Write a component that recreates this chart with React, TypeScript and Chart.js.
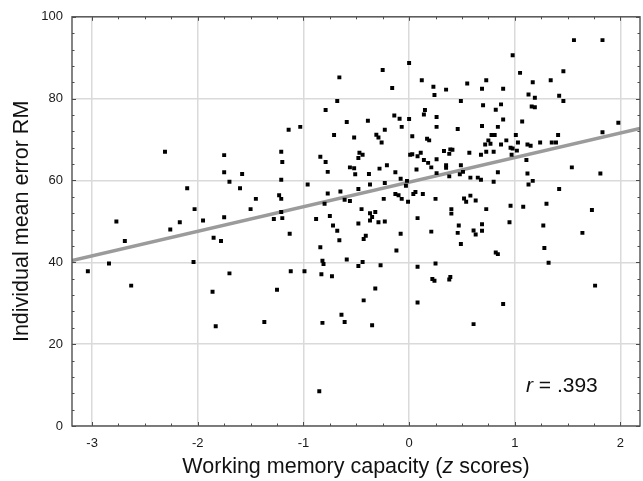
import React, { useEffect, useRef } from "react";
import { Chart, registerables } from "chart.js";

Chart.register(...registerables);

// ---- Data ----
const wmCapacity: number[] = [
  -2.31, -1.75, -1.75, -1.58, -1.7, -2.1, -1.6, -2.03, -1.5,
  0.0, -0.25, -0.66, 0.12, -0.16, 0.23, 0.24, -0.68, -0.79, 0.15,
  0.14, -0.14, -0.09, 0.0, 0.26, -0.39, -0.59, -0.07, 0.26, -1.03,
  -1.14, -0.23, -0.71, -0.31, -0.29, -0.52, 0.03, 0.17, 0.19, -0.26,
  -1.21, -0.47, -0.44, -0.48, -0.84, 0.01, 0.03, 0.11, 0.08, 0.33,
  0.26, 0.14, 0.18, 0.21, -1.2, -0.79, -0.77, -0.56, -0.52, -0.21,
  -0.28, -0.51, -0.38, -0.13, 0.07, 0.26, -1.21, -0.08, -0.23, -0.37,
  -0.02, -0.03, -0.96, -0.77, -0.65, -0.48, -0.13, -0.1, 0.04, 0.06,
  0.13, -1.45, -1.23, -1.21, -0.8, -0.61, -0.56, -0.24, -0.07, -0.01,
  0.25, -1.21, -0.45, -0.37, -0.32,
  1.56, 1.83, 0.98, 1.46, 1.05, 0.55, 0.73, 1.17, 1.34, 0.35,
  0.69, 0.89, 1.13, 1.19, 1.42, 1.46, 0.49, 0.7, 0.87, 0.82,
  1.16, 1.19, 0.89, 1.07, 1.98, 0.46, 0.69, 0.84, 1.83, 0.78,
  0.81, 1.01, 1.41, 0.75, 0.92, 1.03, 0.72, 0.77, 0.87, 1.12,
  1.15, 1.24, 1.35, 1.39, 0.96, 0.98, 1.02, 0.38, 0.41, 0.39,
  0.57, 0.68, 0.73, 0.8, 0.97, 1.11, 0.35, 0.35, 0.49, 0.51,
  0.48, 0.38, 0.58, 0.65, 0.68, 0.84, 0.8, 1.12, 1.13, 1.17,
  1.54, 1.81, 1.42, 0.52, 0.58, 0.54, 0.63, 0.4, 0.4, 0.73,
  0.96, 1.08, 1.3, 1.73,
  -2.77, -2.17, -2.26, -1.95, -1.75, -2.69, -1.85, -1.78, -2.84, -3.04,
  -2.04, -2.63, -1.7, -1.86, -1.83,
  -1.28, -1.2, -0.88, -0.75, -0.35, -0.37, -0.29, -0.23, 0.08, -0.48,
  -0.72, -0.68, -1.13, -0.66, -0.41, -0.43, -0.08, 0.21, -0.84, -0.12,
  -0.82, -0.81, -0.59, -0.44, -0.48, -0.27, 0.08, 0.25, -1.12, -0.99,
  -0.83, -0.73, 0.22, 0.24, -1.25, -0.32, -0.43, 0.08, -0.64, -1.37,
  -0.82, -0.61, -0.35, -0.85,
  0.47, 0.46, 0.49, 0.61, 0.63, 0.69, 0.69, 0.95, 0.82, 0.84,
  1.27, 1.28, 1.32, 1.64, 1.76, 0.39, 0.38, 0.89, 0.61,
];

const meanErrorRM: number[] = [
  67.0, 66.2, 62.0, 61.6, 59.7, 58.1, 58.1, 53.0, 53.0,
  88.7, 87.0, 85.2, 84.5, 82.6, 82.9, 80.9, 79.4, 77.2, 77.2,
  76.1, 75.9, 75.1, 75.0, 75.5, 74.6, 74.3, 73.1, 73.1, 73.1,
  72.4, 72.4, 71.1, 71.2, 70.5, 70.5, 70.8, 70.2, 69.8, 69.3,
  67.0, 66.8, 66.3, 65.5, 65.8, 66.3, 66.4, 66.8, 65.9, 67.2,
  65.2, 65.0, 64.3, 63.2, 64.5, 64.5, 62.1, 63.2, 63.0, 63.7,
  62.9, 61.5, 61.6, 62.0, 62.7, 61.8, 60.2, 60.4, 59.4, 59.0,
  59.9, 58.7, 59.0, 56.8, 57.3, 57.9, 56.7, 56.4, 56.7, 57.2,
  56.7, 55.5, 56.4, 55.5, 54.3, 55.3, 55.0, 55.5, 55.5, 54.8,
  55.5, 52.3, 53.0, 52.0, 52.3,
  94.3, 94.3, 90.6, 86.7, 86.3, 83.7, 84.5, 84.0, 84.5, 82.2,
  82.4, 82.4, 81.0, 80.2, 80.7, 79.4, 79.4, 78.4, 78.6, 77.3,
  78.1, 77.9, 74.9, 74.4, 74.1, 72.6, 73.3, 73.1, 71.8, 71.1,
  71.1, 71.1, 71.1, 69.8, 69.8, 69.3, 68.8, 69.0, 68.8, 68.8,
  68.5, 69.3, 69.3, 69.3, 68.0, 67.8, 67.3, 66.5, 67.5, 67.6,
  66.8, 66.3, 67.0, 67.0, 66.3, 65.0, 63.7, 63.1, 63.7, 62.1,
  61.5, 61.0, 60.7, 60.7, 60.2, 62.0, 59.7, 61.7, 59.0, 59.9,
  63.2, 61.7, 57.9, 55.6, 56.3, 54.8, 55.1, 53.0, 51.9, 53.0,
  53.8, 53.6, 54.3, 52.8,
  50.0, 49.8, 48.0, 50.2, 51.0, 45.2, 46.0, 45.2, 39.7, 37.8,
  40.1, 34.3, 37.3, 32.8, 24.4,
  50.6, 50.8, 50.6, 51.3, 51.1, 50.2, 49.8, 50.0, 50.8, 49.5,
  49.0, 47.7, 47.0, 45.4, 46.5, 45.7, 47.0, 47.5, 43.7, 42.9,
  40.4, 39.6, 40.7, 40.1, 39.1, 39.3, 38.9, 39.7, 37.8, 37.8,
  37.1, 36.6, 35.9, 35.5, 33.3, 33.6, 30.7, 30.2, 27.2, 25.4,
  25.2, 25.4, 24.6, 8.5,
  49.0, 47.2, 44.5, 47.8, 46.8, 49.3, 47.7, 49.8, 42.4, 42.0,
  49.0, 43.5, 39.9, 47.2, 34.3, 36.4, 35.8, 29.8, 24.9,
];

const xTickValues = [-3, -2, -1, 0, 1, 2];
const yTickValues = [0, 20, 40, 60, 80, 100];
const xRange = [-3.19, 2.185];
const yRange = [0, 100];
const regIntercept = 59.6;
const regSlope = 6.0;
const rText = ".393";

const yAxisTitle = "Individual mean error RM";
const xAxisTitleParts: [string, boolean][] = [
  ["Working memory capacity (", false],
  ["z", true],
  [" scores)", false],
];
const rLabelParts: [string, boolean][] = [
  ["r", true],
  [" = " + rText, false],
];

const FONT = '"Liberation Sans", Arial, Helvetica, sans-serif';

function drawParts(
  ctx: CanvasRenderingContext2D,
  parts: [string, boolean][],
  x: number,
  y: number,
  size: number,
  align: "left" | "center"
) {
  const widths = parts.map(([t, it]) => {
    ctx.font = `${it ? "italic " : ""}${size}px ${FONT}`;
    return ctx.measureText(t).width;
  });
  const total = widths.reduce((a, b) => a + b, 0);
  let cx = align === "center" ? x - total / 2 : x;
  ctx.textAlign = "left";
  parts.forEach(([t, it], i) => {
    ctx.font = `${it ? "italic " : ""}${size}px ${FONT}`;
    ctx.fillText(t, cx, y);
    cx += widths[i];
  });
}

const framePlugin = {
  id: "refFrame",
  afterDraw(chart: any) {
    const { ctx, chartArea, scales } = chart;
    const { left, right, top, bottom } = chartArea;
    const xs = scales.x;
    const ys = scales.y;
    ctx.save();
    // inward tick marks (major + minor) on all four sides
    ctx.strokeStyle = "#4a4a4a";
    ctx.lineWidth = 1;
    ctx.beginPath();
    for (let i = -16; i <= 12; i++) {
      const v = i * 0.25;
      if (v < xRange[0] || v > xRange[1]) continue;
      const px = Math.round(xs.getPixelForValue(v)) + 0.5;
      const len = i % 4 === 0 ? 4 : 2.5;
      ctx.moveTo(px, bottom);
      ctx.lineTo(px, bottom - len);
      ctx.moveTo(px, top);
      ctx.lineTo(px, top + len);
    }
    for (let i = 0; i <= 25; i++) {
      const v = i * 4;
      const py = Math.round(ys.getPixelForValue(v)) + 0.5;
      const len = i % 5 === 0 ? 4 : 2.5;
      ctx.moveTo(left, py);
      ctx.lineTo(left + len, py);
      ctx.moveTo(right, py);
      ctx.lineTo(right - len, py);
    }
    ctx.stroke();
    // frame
    ctx.strokeStyle = "#505050";
    ctx.lineWidth = 1.4;
    ctx.strokeRect(left, top, right - left, bottom - top);

    // x-axis title with italic z
    ctx.fillStyle = "#111";
    ctx.textBaseline = "middle";
    drawParts(ctx, xAxisTitleParts, (left + right) / 2, chart.height - 14, 21.5, "center");

    // correlation label
    ctx.textBaseline = "alphabetic";
    drawParts(ctx, rLabelParts, right - 114, bottom - 34, 21, "left");
    ctx.restore();
  },
};

export default function App() {
  const canvasRef = useRef<HTMLCanvasElement | null>(null);

  useEffect(() => {
    const canvas = canvasRef.current;
    if (!canvas) return;
    const points = wmCapacity.map((x, i) => ({ x, y: meanErrorRM[i] }));
    const regLine = [
      { x: xRange[0], y: regIntercept + regSlope * xRange[0] },
      { x: xRange[1], y: regIntercept + regSlope * xRange[1] },
    ];
    const chart = new Chart(canvas, {
      type: "scatter",
      data: {
        datasets: [
          {
            type: "scatter",
            label: "Participants",
            data: points,
            pointStyle: "rect",
            pointRadius: 2.8,
            pointHoverRadius: 2.8,
            backgroundColor: "#000000",
            borderWidth: 0,
            order: 1,
          },
          {
            type: "line",
            label: "Regression",
            data: regLine,
            borderColor: "#9b9b9b",
            borderWidth: 3.5,
            pointRadius: 0,
            fill: false,
            tension: 0,
            order: 2,
          } as any,
        ],
      },
      options: {
        animation: false,
        responsive: false,
        devicePixelRatio: 1,
        events: [],
        layout: { padding: { top: 16, right: 3, left: 0, bottom: 0 } },
        plugins: {
          legend: { display: false },
          tooltip: { enabled: false },
        },
        scales: {
          x: {
            type: "linear",
            min: xRange[0],
            max: xRange[1],
            afterFit: (s: any) => {
              s.height = 55;
            },
            afterBuildTicks: (s: any) => {
              s.ticks = xTickValues.map((v) => ({ value: v }));
            },
            ticks: {
              padding: 10,
              color: "#1a1a1a",
              font: { family: FONT, size: 13 },
              maxRotation: 0,
              autoSkip: false,
            },
            grid: {
              color: "#dadada",
              lineWidth: 1.5,
              drawTicks: false,
            },
            border: { display: false },
            title: { display: false },
          },
          y: {
            type: "linear",
            min: yRange[0],
            max: yRange[1],
            afterFit: (s: any) => {
              s.width = 72;
            },
            afterBuildTicks: (s: any) => {
              s.ticks = yTickValues.map((v) => ({ value: v }));
            },
            ticks: {
              padding: 9,
              color: "#1a1a1a",
              font: { family: FONT, size: 13 },
              autoSkip: false,
            },
            grid: {
              color: "#dadada",
              lineWidth: 1.5,
              drawTicks: false,
            },
            border: { display: false },
            title: {
              display: true,
              text: yAxisTitle,
              color: "#111",
              font: { family: FONT, size: 21.5 },
              padding: { top: 9.6, bottom: 0 },
            },
          },
        },
      },
      plugins: [framePlugin],
    } as any);
    return () => chart.destroy();
  }, []);

  return (
    <div style={{ position: "absolute", left: 0, top: 0, width: 643, height: 481, background: "#fff" }}>
      <canvas ref={canvasRef} width={643} height={481} style={{ display: "block" }} />
    </div>
  );
}
